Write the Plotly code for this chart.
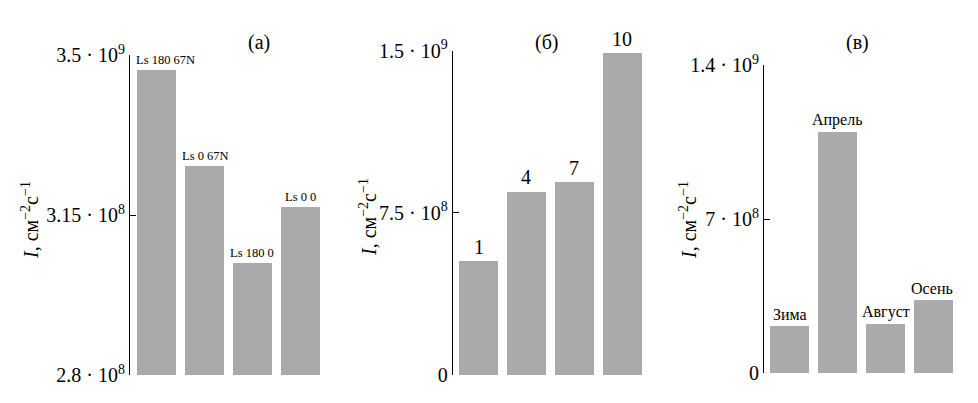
import plotly.graph_objects as go

# Panel (a)
cats_a = ["Ls 180 67N", "Ls 0 67N", "Ls 180 0", "Ls 0 0"]
vals_a = [3.467e8, 3.257e8, 3.044e8, 3.167e8]
ticks_a = [2.8e8, 3.15e8, 3.5e8]
ticktext_a = ["2.8 · 10<sup>8</sup>", "3.15 · 10<sup>8</sup>", "3.5 · 10<sup>9</sup>"]

# Panel (б)
cats_b = ["1", "4", "7", "10"]
vals_b = [0.527e9, 0.850e9, 0.894e9, 1.491e9]
ticks_b = [0, 7.5e8, 1.5e9]
ticktext_b = ["0", "7.5 · 10<sup>8</sup>", "1.5 · 10<sup>9</sup>"]

# Panel (в)
cats_c = ["Зима", "Апрель", "Август", "Осень"]
vals_c = [0.215e9, 1.094e9, 0.224e9, 0.331e9]
ticks_c = [0, 7e8, 1.4e9]
ticktext_c = ["0", "7 · 10<sup>8</sup>", "1.4 · 10<sup>9</sup>"]

panel_titles = ["(a)", "(б)", "(в)"]
ytitle = "<i>I</i>, см<sup>−2</sup>с<sup>−1</sup>"

FONT = "Liberation Serif, Times New Roman, serif"
BAR = "#aaaaad"
OFF = 8  # default page body margin
W, H = 978 - 2 * OFF, 403 - 2 * OFF

def px_x(p):
    return (p - OFF) / W

def px_y(p):
    return 1 - (p - OFF) / H

panels = [
    dict(cats=cats_a, vals=vals_a, ticks=ticks_a, tt=ticktext_a, yr=[2.8e8, 3.5e8],
         xd=[130, 327], yd=[375, 55], xr=[-0.56, 3.56], lblsize=12.5,
         lblshift=[9, 1, 0, 0],
         title_x=259, ytitle_x=30, ytitle_y=220),
    dict(cats=cats_b, vals=vals_b, ticks=ticks_b, tt=ticktext_b, yr=[0, 1.5e9],
         xd=[452.7, 648.1], yd=[375, 50.7], xr=[-0.54, 3.54], lblsize=20,
         lblshift=[0, 0, 0, 0],
         title_x=547, ytitle_x=368, ytitle_y=217),
    dict(cats=cats_c, vals=vals_c, ticks=ticks_c, tt=ticktext_c, yr=[0, 1.4e9],
         xd=[764, 959.4], yd=[373.3, 65], xr=[-0.535, 3.535], lblsize=16,
         lblshift=[0, 0, 0, -2],
         title_x=857, ytitle_x=688, ytitle_y=220),
]

fig = go.Figure()
annotations = []
for i, p in enumerate(panels):
    n = "" if i == 0 else str(i + 1)
    xa, ya = "x" + n, "y" + n
    base = p["yr"][0]
    fig.add_trace(go.Bar(
        x=list(range(len(p["cats"]))), y=[v - base for v in p["vals"]], base=base,
        marker=dict(color=BAR, line=dict(width=0)), width=0.81,
        xaxis=xa, yaxis=ya, showlegend=False, hoverinfo="skip",
    ))
    fig.layout["xaxis" + n] = dict(
        domain=[px_x(p["xd"][0]), px_x(p["xd"][1])], range=p["xr"],
        visible=False, anchor=ya, fixedrange=True, automargin=False,
    )
    fig.layout["yaxis" + n] = dict(
        domain=[px_y(p["yd"][0]), px_y(p["yd"][1])], range=p["yr"],
        anchor=xa, showline=True, linecolor="black", linewidth=1,
        ticks="inside", ticklen=6, tickcolor="black", tickwidth=1,
        tickvals=p["ticks"], ticktext=p["tt"], showgrid=False, zeroline=False,
        tickfont=dict(family=FONT, size=20, color="black"), automargin=False,
    )
    for j, (c, v) in enumerate(zip(p["cats"], p["vals"])):
        annotations.append(dict(
            x=j, y=v, xref=xa, yref=ya, text=c, showarrow=False,
            yanchor="bottom", xanchor="center", yshift=1, xshift=p["lblshift"][j],
            font=dict(family=FONT, size=p["lblsize"], color="black"),
        ))
    annotations.append(dict(
        x=px_x(p["title_x"]), y=px_y(43), xref="paper", yref="paper",
        text=panel_titles[i], showarrow=False, xanchor="center", yanchor="middle",
        font=dict(family=FONT, size=20, color="black"),
    ))
    annotations.append(dict(
        x=px_x(p["ytitle_x"]), y=px_y(p["ytitle_y"]), xref="paper", yref="paper",
        text=ytitle, showarrow=False, textangle=-90, xanchor="center", yanchor="middle",
        font=dict(family=FONT, size=20, color="black"),
    ))

fig.update_layout(
    width=W, height=H, margin=dict(l=0, r=0, t=0, b=0),
    paper_bgcolor="white", plot_bgcolor="white",
    annotations=annotations, bargap=0,
)
fig.write_html("out.html")
